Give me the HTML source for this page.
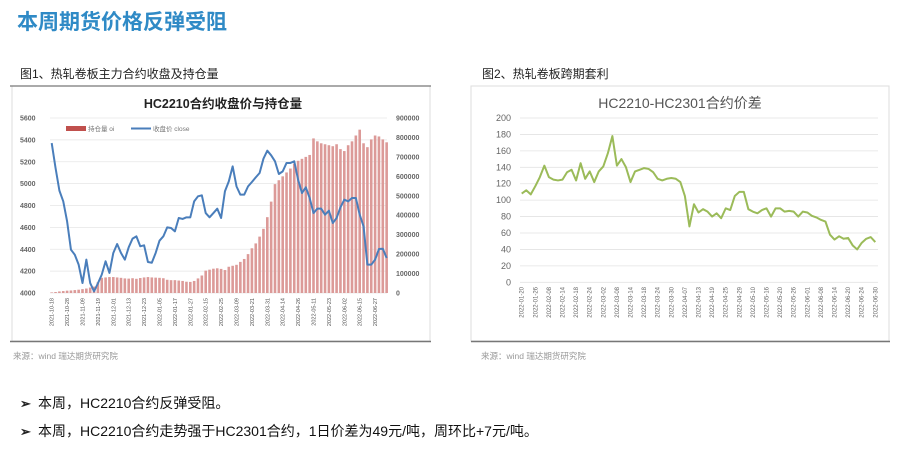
<!DOCTYPE html>
<html><head><meta charset="utf-8">
<style>
html,body{margin:0;padding:0;background:#fff;width:900px;height:451px;overflow:hidden}
svg text{font-family:"Liberation Sans","Noto Sans CJK SC",sans-serif}
</style></head>
<body>
<svg id="page" width="900" height="451" viewBox="0 0 900 451" xmlns="http://www.w3.org/2000/svg">
  <text x="17" y="29" font-size="21" font-weight="bold" fill="#2f8ac6">本周期货价格反弹受阻</text>
  <text x="20" y="78" font-size="12" fill="#222">图1、热轧卷板主力合约收盘及持仓量</text>
  <text x="482" y="78" font-size="12" fill="#222">图2、热轧卷板跨期套利</text>

  <g>
    <rect x="12" y="86" width="418" height="255" fill="none" stroke="#ddd" stroke-width="1"/>
    <line x1="10" y1="86" x2="431" y2="86" stroke="#777" stroke-width="1.2"/>
    <line x1="10" y1="341.5" x2="431" y2="341.5" stroke="#777" stroke-width="1.5"/>
  </g>
  <g>
    <rect x="471" y="86" width="418" height="255" fill="none" stroke="#ddd" stroke-width="1"/>
    <line x1="471" y1="341.5" x2="890" y2="341.5" stroke="#777" stroke-width="1.5"/>
  </g>

  <text x="223" y="108" font-size="12.5" font-weight="bold" text-anchor="middle" fill="#222">HC2210合约收盘价与持仓量</text>
  <g>
    <g>
      <rect x="66" y="126" width="20" height="5" fill="#c0504d"/>
      <text x="88" y="131" font-size="6.5" fill="#777">持仓量 oi</text>
    </g>
    <g>
      <line x1="131" y1="128.5" x2="151" y2="128.5" stroke="#4a7ebb" stroke-width="2"/>
      <text x="153" y="131" font-size="6.5" fill="#777">收盘价 close</text>
    </g>
  </g>
  <g id="c1"></g>

  <text x="680" y="108" font-size="14" text-anchor="middle" fill="#555">HC2210-HC2301合约价差</text>
  <g id="c2"></g>

  <text x="13" y="359" font-size="8.5" fill="#999">来源：wind   瑞达期货研究院</text>
  <text x="481" y="359" font-size="8.5" fill="#999">来源：wind   瑞达期货研究院</text>

  <g>
    <text x="20" y="408" font-size="13" font-weight="bold" fill="#222">➢</text>
    <text x="38" y="408" font-size="14" fill="#111">本周，HC2210合约反弹受阻。</text>
  </g>
  <g>
    <text x="20" y="436" font-size="13" font-weight="bold" fill="#222">➢</text>
    <text x="38" y="436" font-size="14" fill="#111">本周，HC2210合约走势强于HC2301合约，1日价差为49元/吨，周环比+7元/吨。</text>
  </g>
</svg>
<script>
const NS="http://www.w3.org/2000/svg";
// ---- chart 1 data ----
const c1Labels=["2021-10-18","2021-10-28","2021-11-09","2021-11-19","2021-12-01","2021-12-13","2021-12-23","2022-01-05","2022-01-17","2022-01-27","2022-02-15","2022-02-25","2022-03-09","2022-03-21","2022-03-31","2022-04-14","2022-04-26","2022-05-11","2022-05-23","2022-06-02","2022-06-15","2022-06-27"];
const c1Close=[5371,5143,4936,4838,4655,4396,4350,4259,4091,4305,4091,4015,4088,4168,4290,4183,4366,4448,4366,4305,4418,4497,4518,4427,4436,4283,4277,4366,4478,4518,4600,4594,4564,4686,4677,4692,4692,4838,4884,4893,4731,4692,4731,4771,4686,4930,5021,5158,4975,4899,4899,4975,5015,5057,5097,5228,5301,5259,5204,5088,5112,5189,5189,5204,5036,4914,4966,4869,4731,4771,4771,4716,4753,4640,4686,4783,4853,4838,4869,4869,4716,4610,4259,4259,4305,4402,4405,4320];
const c1OI=[3000,5000,8000,10000,12000,13000,15000,17000,20000,23000,28000,33000,55000,78000,80000,82000,82000,80000,78000,75000,74000,76000,73000,77000,80000,82000,80000,79000,78000,76000,68000,66000,66000,64000,62000,58000,57000,62000,75000,90000,115000,120000,125000,127000,124000,118000,135000,140000,145000,160000,175000,200000,230000,255000,290000,330000,390000,470000,560000,580000,600000,620000,640000,665000,680000,690000,700000,710000,795000,780000,770000,765000,760000,755000,765000,740000,730000,760000,780000,810000,840000,770000,750000,790000,810000,805000,790000,775000];
const c1LeftTicks=[4000,4200,4400,4600,4800,5000,5200,5400,5600];
const c1RightTicks=[0,100000,200000,300000,400000,500000,600000,700000,800000,900000];
// ---- chart 2 data ----
const c2Labels=["2022-01-20","2022-01-26","2022-02-08","2022-02-14","2022-02-18","2022-02-24","2022-03-02","2022-03-08","2022-03-14","2022-03-18","2022-03-24","2022-03-30","2022-04-07","2022-04-13","2022-04-19","2022-04-25","2022-04-29","2022-05-10","2022-05-16","2022-05-20","2022-05-26","2022-06-01","2022-06-08","2022-06-14","2022-06-20","2022-06-24","2022-06-30"];
const c2Spread=[108,112,107,117,128,142,128,125,124,125,134,137,124,145,126,135,122,135,141,157,178,142,150,140,122,135,137,139,138,134,126,124,126,127,126,122,105,68,95,85,89,86,80,84,78,90,88,105,110,110,89,86,84,88,90,80,90,90,86,87,86,80,86,85,81,79,76,74,58,52,56,53,54,45,40,48,53,55,49];
const c2Ticks=[0,20,40,60,80,100,120,140,160,180,200];

function mk(tag,attrs,parent){const e=document.createElementNS(NS,tag);for(const k in attrs)e.setAttribute(k,attrs[k]);parent.appendChild(e);return e;}

// chart 1
(function(){
  const g=document.getElementById('c1');
  const x0=51.7,step=3.85,yT=118,yB=293,x1=387;
  const yL=v=>yB-(v-4000)/1600*(yB-yT);
  const yR=v=>yB-v/900000*(yB-yT);
  const xI=i=>x0+i*step;
  c1LeftTicks.forEach(v=>{
    const ln=mk('line',{x1:50,x2:x1,y1:yL(v),y2:yL(v),stroke:'#e6e6e6','stroke-width':0.8},g);
    
    
    const t=mk('text',{x:20,y:yL(v)+2.5,'font-size':7,fill:'#666','font-weight':'bold'},g);
    t.textContent=v;
    
    
  });
  c1RightTicks.forEach(v=>{
    const t=mk('text',{x:396,y:yR(v)+2.5,'font-size':7,fill:'#666','font-weight':'bold'},g);
    t.textContent=v;
    
    
  });
  c1OI.forEach((v,i)=>{
    const r=mk('rect',{x:xI(i)-1.3,y:yR(v),width:2.6,height:yB-yR(v),fill:'#dc9a98'},g);
    
    
  });
  const p=mk('polyline',{points:c1Close.map((v,i)=>xI(i)+','+yL(v)).join(' '),fill:'none',stroke:'#4a7ebb','stroke-width':2,'stroke-linejoin':'round'},g);
  
  
  c1Labels.forEach((s,k)=>{
    const x=xI(k*4)+2;
    const t=mk('text',{transform:`translate(${x},298) rotate(-90)`,'text-anchor':'end','font-size':5.5,fill:'#555'},g);
    t.textContent=s;
    
    
  });
})();

// chart 2
(function(){
  const g=document.getElementById('c2');
  const xA=521.7,xB=875.3,yT=118,yB=282.3;
  const n=c2Spread.length;
  const xI=i=>xA+i*(xB-xA)/(n-1);
  const y=v=>yB-v/200*(yB-yT);
  c2Ticks.forEach(v=>{
    const ln=mk('line',{x1:520,x2:878,y1:y(v),y2:y(v),stroke:'#e3e3e3','stroke-width':0.8},g);
    
    
    const t=mk('text',{x:511,y:y(v)+3,'font-size':9,fill:'#666','text-anchor':'end'},g);
    t.textContent=v;
    
    
  });
  const p=mk('polyline',{points:c2Spread.map((v,i)=>xI(i)+','+y(v)).join(' '),fill:'none',stroke:'#9bbb59','stroke-width':2,'stroke-linejoin':'round'},g);
  
  
  const lstep=(xB-xA)/(c2Labels.length-1);
  c2Labels.forEach((s,k)=>{
    const x=xA+k*lstep+2;
    const t=mk('text',{transform:`translate(${x},287) rotate(-90)`,'text-anchor':'end','font-size':6,fill:'#666'},g);
    t.textContent=s;
    
    
  });
})();
</script>
</body></html>
